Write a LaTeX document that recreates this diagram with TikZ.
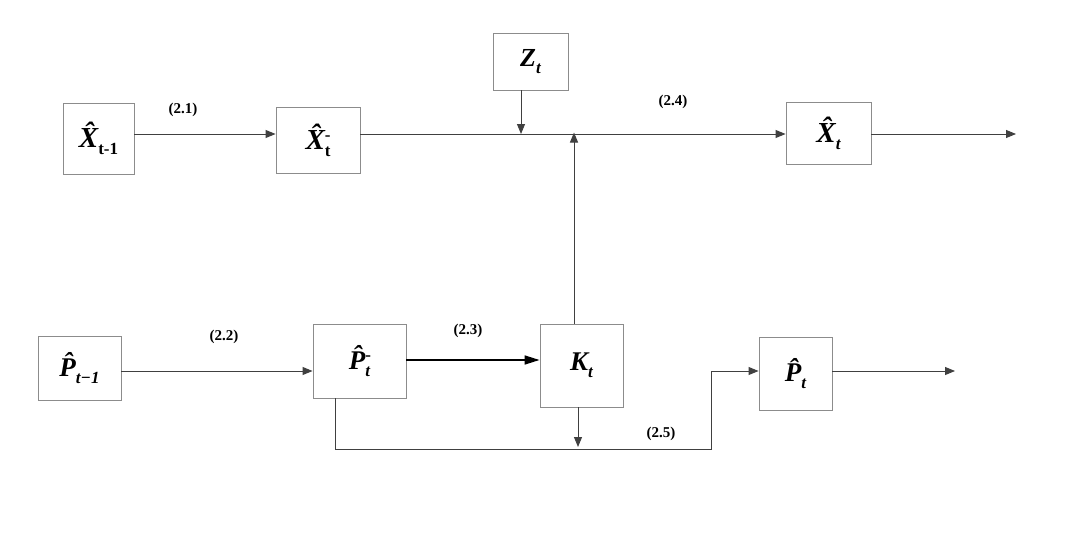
\documentclass[tikz,border=0pt]{standalone}
\usepackage{fontspec}
\setmainfont{Liberation Serif}
\usetikzlibrary{arrows.meta}
\definecolor{boxc}{HTML}{8C8C8C}
\definecolor{linec}{HTML}{404040}
\newcommand\mysb[1]{\raisebox{-7pt}{\fontsize{17}{17}\selectfont #1}}
\newcommand\mysbsp[2]{\rlap{\raisebox{9pt}{\fontsize{17}{17}\selectfont #1}}\raisebox{-7pt}{\fontsize{17}{17}\selectfont #2}}
\tikzset{
  blk/.style={draw=boxc, line width=0.9pt, inner sep=0pt, font=\fontsize{29}{29}\selectfont\bfseries\itshape},
  conn/.style={draw=linec, line width=1pt, -{Triangle[length=10pt,width=8pt]}, fill=none},
  thickconn/.style={draw=black, line width=1.6pt, -{Triangle[length=15pt,width=9pt]}},
  eqlab/.style={font=\fontsize{15}{15}\selectfont\bfseries, inner sep=0pt}
}
\begin{document}
\begin{tikzpicture}[x=1pt,y=-1pt]
\useasboundingbox[fill=white] (0,0) rectangle (1077,543);
% boxes
\node[blk, minimum width=71, minimum height=71] (xp) at (98.5,138.5) {\^{X}\mysb{\upshape t-1}};
\node[blk, minimum width=84, minimum height=66] (xm) at (318,140) {\^{X}\mysbsp{\upshape -}{\upshape t}};
\node[blk, minimum width=75, minimum height=57, font=\fontsize{26}{26}\selectfont\bfseries\itshape] (z) at (530.5,61.5) {Z\mysb{t}};
\node[blk, minimum width=85, minimum height=62] (xt) at (828.5,133) {\^{X}\mysb{t}};
\node[blk, minimum width=83, minimum height=64, font=\fontsize{27}{27}\selectfont\bfseries\itshape] (pp) at (79.5,368) {\^{P}\mysb{t\textminus1}};
\node[blk, minimum width=93, minimum height=74, font=\fontsize{27}{27}\selectfont\bfseries\itshape] (pm) at (359.5,361) {\^{P}\mysbsp{\upshape -}{t}};
\node[blk, minimum width=83, minimum height=83, font=\fontsize{27}{27}\selectfont\bfseries\itshape] (k) at (581.5,365.5) {K\mysb{t}};
\node[blk, minimum width=73, minimum height=73, font=\fontsize{27}{27}\selectfont\bfseries\itshape] (pt) at (795.5,373.5) {\^{P}\mysb{t}};
% helper coordinates
\coordinate (r1) at (0,134);
\coordinate (r2) at (0,371);
\coordinate (r3) at (0,360);
\coordinate (zx) at (521,0);
\coordinate (kx) at (574,0);
\coordinate (kd) at (578,0);
\coordinate (b1) at (335,0);
\coordinate (b2) at (711,449);
\coordinate (xo) at (1016,134);
\coordinate (po) at (955,371);
\coordinate (kdend) at (578,447);
% connectors
\draw[conn] (xp.east |- r1) -- (xm.west |- r1);
\draw[conn] (xm.east |- r1) -- (xt.west |- r1);
\draw[conn] (z.south -| zx) -- (zx |- r1);
\draw[conn] (k.north -| kx) -- ([yshift=1.5]kx |- r1);
\draw[conn] (xt.east |- r1) -- (xo);
\draw[conn] (pp.east |- r2) -- (pm.west |- r2);
\draw[thickconn] (pm.east |- r3) -- (k.west |- r3);
\draw[conn] (k.south -| kd) -- (kdend);
\draw[conn] (pm.south -| b1) |- (b2) |- (pt.west |- r2);
\draw[conn] (pt.east |- r2) -- (po);
% labels
\node[eqlab] (l1) at (183,110) {(2.1)};
\node[eqlab] (l2) at (224,337) {(2.2)};
\node[eqlab] (l3) at (468,331) {(2.3)};
\node[eqlab] (l4) at (673,102) {(2.4)};
\node[eqlab] (l5) at (661,434) {(2.5)};
\end{tikzpicture}
\end{document}
